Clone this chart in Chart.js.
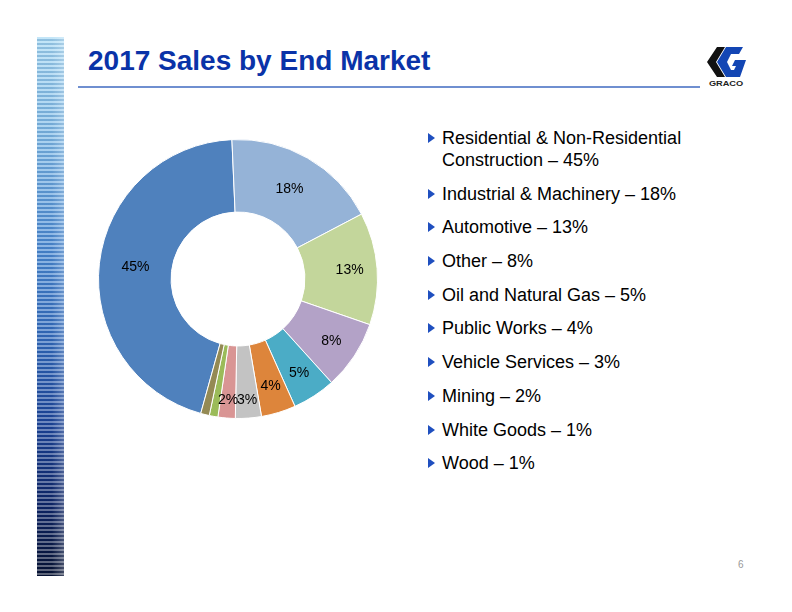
<!DOCTYPE html>
<html>
<head>
<meta charset="utf-8">
<script src="https://cdn.jsdelivr.net/npm/chart.js@4.4.0/dist/chart.umd.min.js"></script>
<style>
  html, body { margin: 0; padding: 0; background: #fff; }
  body { width: 792px; height: 612px; position: relative; overflow: hidden; font-family: "Liberation Sans", Arial, sans-serif; }
  #strip {
    position: absolute; left: 37px; top: 37px; width: 27px; height: 539px;
    background:
      linear-gradient(to right, rgba(255,255,255,0) 0%, rgba(255,255,255,0) 55%, rgba(255,255,255,0.25) 100%),
      repeating-linear-gradient(to bottom, rgba(255,255,255,0.35) 0px, rgba(255,255,255,0.35) 2px, rgba(0,20,70,0.12) 2px, rgba(0,20,70,0.12) 4px),
      linear-gradient(to bottom, #a4d8f4 0%, #7fbbe8 18%, #4f8fd6 38%, #356fc0 55%, #1d469a 72%, #0e2566 87%, #06112f 100%);
  }
  #title { position: absolute; left: 88px; top: 45px; font-size: 28px; font-weight: bold; color: #0a33a8; white-space: nowrap; }
  #rule { position: absolute; left: 78px; top: 86px; width: 622px; height: 2px; background: #6f8fd0; }
  #logo { position: absolute; left: 705px; top: 45px; width: 42px; height: 46px; }
  #logo .name { position: absolute; left: 0; top: 34px; width: 42px; text-align: center; font-size: 8px; font-weight: bold; color: #222; transform: scaleX(1.15); }
  #chartBox { position: absolute; left: 98px; top: 139px; width: 280px; height: 280px; }
  #legend { position: absolute; left: 428px; top: 127px; margin: 0; padding: 0; list-style: none; font-size: 18px; color: #000; }
  #legend li { position: relative; padding-left: 14px; line-height: 22px; margin-bottom: 11.7px; }
  #legend li:before { content: ""; position: absolute; left: 0; top: 6px; border-left: 7px solid #1f4fbf; border-top: 5px solid transparent; border-bottom: 5px solid transparent; }
  #page { position: absolute; left: 738px; top: 559px; font-size: 10px; color: #999; }
</style>
</head>
<body>
<div id="strip"></div>
<div id="title">2017 Sales by End Market</div>
<div id="rule"></div>
<div id="logo">
  <svg width="42" height="34" viewBox="0 0 42 34">
    <polygon points="12,2 20,2 11,17 20,32 12,32 2,17" fill="#111"/>
    <polygon points="21,2 38,2 34,9 26,9 22,17 26,25 29,25 31,21 27,21 30,15 41,15 35,32 21,32 12,17" fill="#1346b4"/>
  </svg>
  <div class="name">GRACO</div>
</div>
<div id="chartBox"><canvas id="donut"></canvas></div>
<ul id="legend"></ul>
<div id="page">6</div>
<script>
// categories and shares (%)
const markets = ["Residential & Non-Residential Construction", "Industrial & Machinery", "Automotive", "Other",
  "Oil and Natural Gas", "Public Works", "Vehicle Services", "Mining", "White Goods", "Wood"];
const shares = [45, 18, 13, 8, 5, 4, 3, 2, 1, 1];
const sliceColors = ["#4f81bd", "#95b3d7", "#c3d69b", "#b3a2c7", "#4bacc6", "#dd853b", "#c3c3c3", "#d99594", "#9bbb59", "#948a54"];

// Legend list on the right
const legendEl = document.getElementById("legend");
markets.forEach((m, i) => {
  const li = document.createElement("li");
  li.textContent = m + " \u2013 " + shares[i] + "%";
  if (i === 0) li.innerHTML = "Residential &amp; Non-Residential<br>Construction \u2013 45%";
  legendEl.appendChild(li);
});

// Percentage labels inside the ring
const sliceLabels = {
  id: "sliceLabels",
  afterDatasetsDraw(chart) {
    const ctx = chart.ctx;
    const meta = chart.getDatasetMeta(0);
    ctx.save();
    ctx.font = "14px 'Liberation Sans', Arial, sans-serif";
    ctx.fillStyle = "#000";
    ctx.textAlign = "center";
    ctx.textBaseline = "middle";
    meta.data.forEach((arc, i) => {
      const v = shares[i];
      if (v < 2) return;
      const p = arc.getProps(["x", "y", "startAngle", "endAngle", "innerRadius", "outerRadius"], true);
      const f = v >= 15 ? 0.5 : (v >= 4 ? 0.62 : 0.75);
      const r = p.innerRadius + (p.outerRadius - p.innerRadius) * f;
      const a = (p.startAngle + p.endAngle) / 2;
      ctx.fillText(v + "%", p.x + Math.cos(a) * r, p.y + Math.sin(a) * r);
    });
    ctx.restore();
  }
};

new Chart(document.getElementById("donut"), {
  type: "doughnut",
  data: {
    labels: markets,
    datasets: [{
      data: shares,
      backgroundColor: sliceColors,
      borderColor: "#fff",
      borderWidth: 1
    }]
  },
  options: {
    responsive: true,
    maintainAspectRatio: false,
    animation: false,
    rotation: -164.5,
    cutout: "48%",
    layout: { padding: 0 },
    plugins: {
      legend: { display: false },
      tooltip: { enabled: false }
    }
  },
  plugins: [sliceLabels]
});
</script>
</body>
</html>
